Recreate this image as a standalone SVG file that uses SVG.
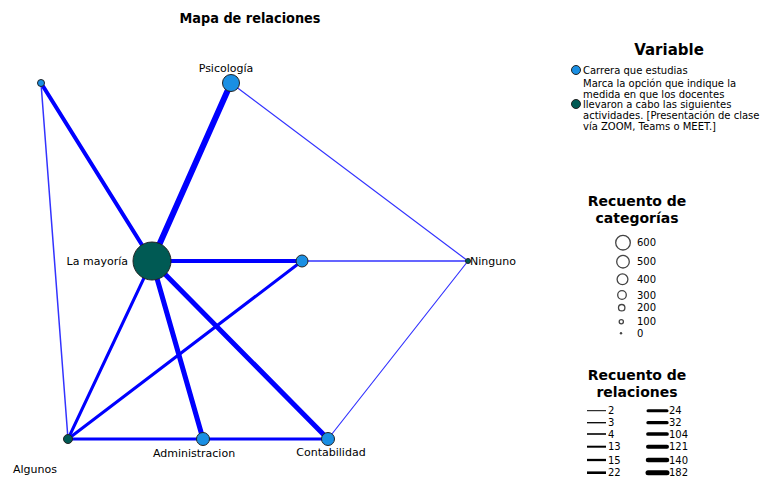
<svg xmlns="http://www.w3.org/2000/svg" width="762" height="479" viewBox="0 0 762 479">
<style>
text{font-family:"DejaVu Sans","Liberation Sans",sans-serif;fill:#000}
.t{font-size:14px;font-weight:bold}
.lab{font-size:11px}
.leg{font-size:10px}
.h{font-size:14px;font-weight:bold;text-anchor:middle}
.e{stroke:#0000ff;fill:none;stroke-linecap:round}
.thin{stroke:#3333ff}
.c1{fill:#1a8fe3;stroke:#222;stroke-width:1}
.c2{fill:#005a54;stroke:#222;stroke-width:1}
.lc{fill:#fff;stroke:#444;stroke-width:1.3}
.ll{stroke:#000}
</style>
<text x="250" y="23" class="t" text-anchor="middle" textLength="141" lengthAdjust="spacingAndGlyphs">Mapa de relaciones</text>
<g id="connectors">
<line class="e" x1="41" y1="83" x2="152" y2="261" stroke-width="4"/>
<line class="e thin" x1="41" y1="83" x2="68" y2="439" stroke-width="1.5"/>
<line class="e" x1="231" y1="83" x2="152" y2="261" stroke-width="6"/>
<line class="e thin" x1="231" y1="83" x2="468" y2="261" stroke-width="1.2"/>
<line class="e" x1="152" y1="261" x2="302" y2="261" stroke-width="4"/>
<line class="e thin" x1="302" y1="261" x2="468" y2="261" stroke-width="1.5"/>
<line class="e" x1="152" y1="261" x2="68" y2="439" stroke-width="3"/>
<line class="e" x1="152" y1="261" x2="203" y2="439" stroke-width="5"/>
<line class="e" x1="152" y1="261" x2="328" y2="439" stroke-width="5"/>
<line class="e" x1="302" y1="261" x2="68" y2="439" stroke-width="3"/>
<line class="e" x1="68" y1="439" x2="203" y2="439" stroke-width="3"/>
<line class="e" x1="203" y1="439" x2="328" y2="439" stroke-width="3"/>
<line class="e thin" x1="328" y1="439" x2="468" y2="261" stroke-width="1.2"/>
</g>
<g id="node-tl"><circle class="c1" cx="41" cy="83" r="3.5"/></g>
<g id="node-psicologia"><circle class="c1" cx="231" cy="83" r="8.5"/><text class="lab" x="226" y="72" text-anchor="middle">Psicología</text></g>
<g id="node-lamayoria"><circle class="c2" cx="152" cy="261" r="19"/><text class="lab" x="128" y="265" text-anchor="end">La mayoría</text></g>
<g id="node-mid"><circle class="c1" cx="302" cy="261" r="6"/></g>
<g id="node-ninguno"><circle class="c2" cx="468" cy="261" r="2.5"/><text class="lab" x="470" y="265">Ninguno</text></g>
<g id="node-algunos"><circle class="c2" cx="68" cy="439" r="4.5"/><text class="lab" x="35" y="473" text-anchor="middle">Algunos</text></g>
<g id="node-administracion"><circle class="c1" cx="203" cy="439" r="6.5"/><text class="lab" x="194" y="457" text-anchor="middle">Administracion</text></g>
<g id="node-contabilidad"><circle class="c1" cx="328" cy="439" r="6.5"/><text class="lab" x="331" y="456" text-anchor="middle">Contabilidad</text></g>
<g id="legend-variable">
<text class="h" x="669" y="55" style="font-size:15px">Variable</text>
<circle class="c1" cx="576" cy="70" r="4.5"/>
<text class="leg" x="583" y="74">Carrera que estudias</text>
<circle class="c2" cx="576" cy="104" r="4.5"/>
<text class="leg" x="583" y="87">Marca la opción que indique la</text>
<text class="leg" x="583" y="98">medida en que los docentes</text>
<text class="leg" x="583" y="108">llevaron a cabo las siguientes</text>
<text class="leg" x="583" y="119">actividades. [Presentación de clase</text>
<text class="leg" x="583" y="130">vía ZOOM, Teams o MEET.]</text>
</g>
<g id="legend-categorias">
<text class="h" x="637" y="206">Recuento de</text>
<text class="h" x="637" y="223">categorías</text>
<circle class="lc" cx="623" cy="242.7" r="7.3"/><text class="leg" x="637" y="246">600</text>
<circle class="lc" cx="623" cy="261.7" r="6.3"/><text class="leg" x="637" y="265">500</text>
<circle class="lc" cx="622.5" cy="279.3" r="5.4"/><text class="leg" x="637" y="283">400</text>
<circle class="lc" cx="622" cy="295" r="4.3"/><text class="leg" x="637" y="299">300</text>
<circle class="lc" cx="621.7" cy="307.7" r="3.2"/><text class="leg" x="637" y="311">200</text>
<circle class="lc" cx="621.3" cy="321.7" r="2.1"/><text class="leg" x="637" y="325">100</text>
<circle cx="621" cy="333.3" r="1.2" fill="#444"/><text class="leg" x="637" y="337">0</text>
</g>
<g id="legend-relaciones">
<text class="h" x="637" y="380">Recuento de</text>
<text class="h" x="637" y="397">relaciones</text>
<line class="ll" x1="587" y1="410.7" x2="606" y2="410.7" stroke="#555" stroke-width="1"/><text class="leg" x="608" y="414">2</text>
<line class="ll" x1="587" y1="422.7" x2="606" y2="422.7" stroke="#555" stroke-width="1.3"/><text class="leg" x="608" y="426">3</text>
<line class="ll" x1="587" y1="434" x2="606" y2="434" stroke="#333" stroke-width="1.6"/><text class="leg" x="608" y="438">4</text>
<line class="ll" x1="587" y1="446.7" x2="606" y2="446.7" stroke-width="2"/><text class="leg" x="608" y="450">13</text>
<line class="ll" x1="587" y1="460" x2="606" y2="460" stroke-width="2.3"/><text class="leg" x="608" y="464">15</text>
<line class="ll" x1="587" y1="472.7" x2="606" y2="472.7" stroke-width="2.6"/><text class="leg" x="608" y="476">22</text>
<line class="ll" x1="648" y1="410.7" x2="667" y2="410.7" stroke-width="3" stroke-linecap="round"/><text class="leg" x="669" y="414">24</text>
<line class="ll" x1="648" y1="422.7" x2="667" y2="422.7" stroke-width="3.3" stroke-linecap="round"/><text class="leg" x="669" y="426">32</text>
<line class="ll" x1="648" y1="434" x2="667" y2="434" stroke-width="3.7" stroke-linecap="round"/><text class="leg" x="669" y="438">104</text>
<line class="ll" x1="648" y1="446.7" x2="667" y2="446.7" stroke-width="4" stroke-linecap="round"/><text class="leg" x="669" y="450">121</text>
<line class="ll" x1="648" y1="460" x2="667" y2="460" stroke-width="4.5" stroke-linecap="round"/><text class="leg" x="669" y="464">140</text>
<line class="ll" x1="648" y1="472.7" x2="667" y2="472.7" stroke-width="5" stroke-linecap="round"/><text class="leg" x="669" y="476">182</text>
</g>
</svg>
